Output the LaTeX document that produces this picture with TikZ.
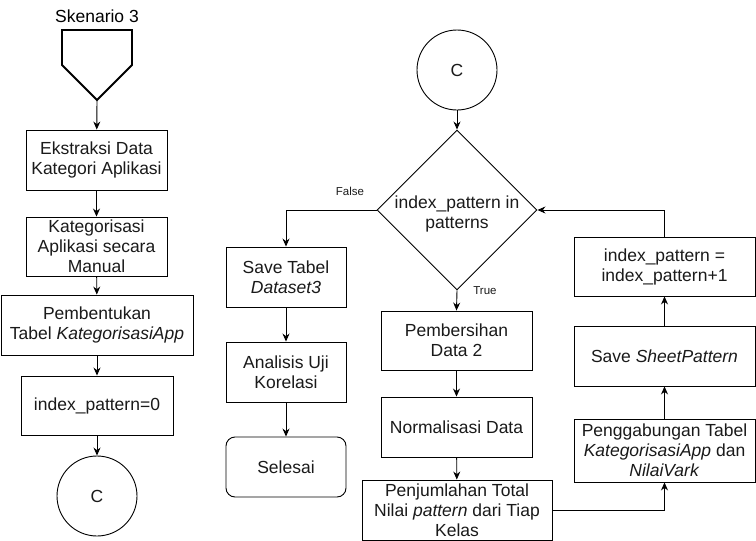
\documentclass[tikz,border=0pt]{standalone}
\usepackage{fontspec}
\setmainfont{Liberation Sans}
\usepackage{tikz}
\usetikzlibrary{arrows.meta,positioning,calc,shapes.geometric}
\definecolor{skink} {HTML}{000000}
\definecolor{sktext}{HTML}{1A1A1A}
\tikzset{
  sknode/.style={draw=skink, fill=white, line width=0.9pt, inner sep=0pt,
                 align=center, text=sktext, font=\fontsize{17.5}{20}\selectfont},
  skend/.style={sknode, rounded corners=9pt},
  skcirc/.style={sknode, circle, minimum size=80pt},
  skdec/.style={sknode, diamond, minimum width=160pt, minimum height=160pt},
  skedge/.style={-{Stealth[length=8pt,width=7pt]}, draw=skink, line width=0.9pt},
  sklabel/.style={font=\fontsize{11.5}{13}\selectfont, text=sktext},
}

\begin{document}
\begin{tikzpicture}[x=1pt,y=-1pt]
  \useasboundingbox (0,0) rectangle (756,541);
  % kolom kiri
  \node[font=\fontsize{17.5}{20}\selectfont] (sk3) at (97,16) {Skenario 3};
  \draw[skink, line width=1.8pt] (62,30) -- (132,30) -- (132,65) -- (97,100) -- (62,65) -- cycle;
  \coordinate (opc) at (97,100);
  \node[sknode, minimum width=141pt, minimum height=60pt] (eks) at (96.5,160) {Ekstraksi Data\\Kategori Aplikasi};
  \node[sknode, minimum width=141pt, minimum height=59pt] (kat) at (96.5,246.5) {Kategorisasi\\Aplikasi secara\\Manual};
  \node[sknode, minimum width=192pt, minimum height=60pt] (pbt) at (97,325) {Pembentukan\\Tabel \textit{KategorisasiApp}};
  \node[sknode, minimum width=152pt, minimum height=59pt] (idx0) at (97,405.5) {index\_pattern=0};
  \node[skcirc] (c1) at (97,496) {C};
  \draw[skedge] (opc) -- (eks);
  \draw[skedge] (eks) -- (kat);
  \draw[skedge] (kat) -- (pbt);
  \draw[skedge] (pbt) -- (idx0);
  \draw[skedge] (idx0) -- (c1);
  % perulangan pattern
  \node[skcirc] (c2) at (457,70) {C};
  \node[skdec, label={[sknode, draw=none, fill=none, yshift=-4pt]center:{index\_pattern in\\patterns}}] (dec) at (457,210) {};
  \node[sknode, minimum width=120pt, minimum height=60pt] (sv3) at (286,277) {Save Tabel\\\textit{Dataset3}};
  \node[sknode, minimum width=120pt, minimum height=60pt] (kor) at (286,372) {Analisis Uji\\Korelasi};
  \node[skend, minimum width=120pt, minimum height=60pt] (end) at (286,467) {Selesai};
  \node[sknode, minimum width=151pt, minimum height=59pt] (bsh) at (456.5,340.5) {Pembersihan\\Data 2};
  \node[sknode, minimum width=151pt, minimum height=60pt] (nrm) at (456.5,427) {Normalisasi Data};
  \node[sknode, minimum width=190pt, minimum height=60pt] (jml) at (457,510) {Penjumlahan Total\\Nilai \textit{pattern} dari Tiap\\Kelas};
  \node[sknode, minimum width=181pt, minimum height=63pt] (gab) at (664.5,450.5) {Penggabungan Tabel\\\textit{KategorisasiApp} dan\\\textit{NilaiVark}};
  \node[sknode, minimum width=181pt, minimum height=60pt] (ssp) at (664.5,356) {Save \textit{SheetPattern}};
  \node[sknode, minimum width=181pt, minimum height=59pt] (idx1) at (664.5,266.5) {index\_pattern =\\index\_pattern+1};
  \draw[skedge] (c2) -- (dec);
  \draw[skedge] (dec.west) -| (sv3.north);
  \draw[skedge] (sv3) -- (kor);
  \draw[skedge] (kor) -- (end);
  \draw[skedge] (dec.south) -- (bsh.north);
  \draw[skedge] (bsh) -- (nrm);
  \draw[skedge] (nrm) -- (jml);
  \draw[skedge] (jml.east) -| (gab.south);
  \draw[skedge] (gab) -- (ssp);
  \draw[skedge] (ssp) -- (idx1);
  \draw[skedge] (idx1.north) |- (dec.east);
  \node[sklabel] (lf) at (350,191) {False};
  \node[sklabel] (lt) at (485,291) {True};
\end{tikzpicture}
\end{document}
